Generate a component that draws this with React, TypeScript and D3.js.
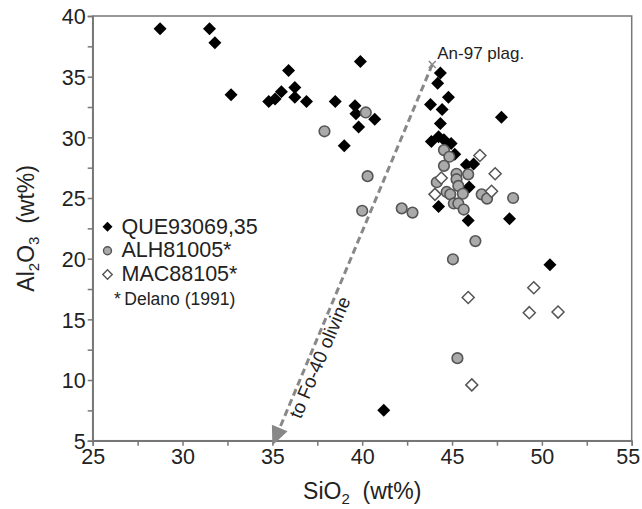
import React, { useEffect, useRef } from "react";
import * as d3 from "d3";

// SiO2 / Al2O3 (wt%)
const queSi = [28.75, 31.5, 31.8, 32.7, 34.8, 35.15, 35.5, 35.9, 36.25, 36.25, 36.9, 38.5, 39.0, 39.6, 39.65, 39.8, 39.9, 40.7, 44.35, 44.2, 44.8, 43.8, 44.45, 47.75, 44.35, 43.85, 44.25, 44.55, 44.95, 45.15, 45.8, 46.2, 45.95, 44.25, 45.9, 48.2, 50.45, 41.2];
const queAl = [38.95, 38.95, 37.8, 33.5, 32.95, 33.15, 33.75, 35.5, 34.1, 33.3, 32.95, 32.95, 29.3, 32.6, 31.95, 30.85, 36.25, 31.5, 35.3, 34.45, 33.3, 32.7, 32.3, 31.65, 31.15, 29.65, 30.05, 29.8, 29.5, 28.6, 27.75, 27.8, 25.9, 24.3, 23.15, 23.3, 19.5, 7.5];

const alhSi = [37.9, 40.2, 40.3, 40.0, 42.2, 42.8, 44.55, 44.85, 44.55, 44.15, 45.25, 45.25, 45.35, 45.9, 44.7, 44.9, 45.6, 45.1, 45.35, 45.65, 46.65, 46.95, 48.4, 46.3, 45.05, 45.3];
const alhAl = [30.5, 32.05, 26.8, 23.95, 24.15, 23.8, 28.95, 28.4, 27.65, 26.3, 27.0, 26.55, 26.0, 26.95, 25.5, 25.3, 25.35, 24.55, 24.55, 24.05, 25.3, 24.95, 25.0, 21.45, 19.95, 11.8];

const macSi = [46.55, 44.4, 44.05, 47.4, 47.2, 45.9, 49.55, 49.3, 50.9, 46.1];
const macAl = [28.5, 26.65, 25.3, 27.0, 25.55, 16.8, 17.6, 15.55, 15.6, 9.6];

const xTicks = [25, 30, 35, 40, 45, 50, 55];
const yTicks = [5, 10, 15, 20, 25, 30, 35, 40];

// mixing line: An-97 plagioclase -> Fo-40 olivine
const plag = [43.9, 36.0];
const olivine = [35, 4.6];

const FONT = "'Liberation Sans', Arial, Helvetica, sans-serif";

export default function App() {
  const ref = useRef(null);

  useEffect(() => {
    const width = 642,
      height = 509;

    const x = d3.scaleLinear().domain([25, 55]).range([92.7, 631.7]);
    const y = d3.scaleLinear().domain([5, 40]).range([440.7, 16]);

    const svg = d3
      .select(ref.current)
      .append("svg")
      .attr("width", width)
      .attr("height", height)
      .style("position", "absolute")
      .style("left", 0)
      .style("top", 0)
      .style("font-family", FONT);

    // frame
    svg
      .append("rect")
      .attr("x", x(25))
      .attr("y", y(40))
      .attr("width", x(55) - x(25))
      .attr("height", y(5) - y(40))
      .attr("fill", "none")
      .attr("stroke", "#777")
      .attr("stroke-width", 1.5);

    const xAxis = svg
      .append("g")
      .attr("transform", `translate(0,${y(5)})`)
      .call(
        d3
          .axisBottom(x)
          .tickValues(d3.range(25, 55.1, 2.5))
          .tickSize(5)
          .tickFormat((d) => (xTicks.includes(+d) ? String(d) : ""))
      );
    const yAxis = svg
      .append("g")
      .attr("transform", `translate(${x(25)},0)`)
      .call(
        d3
          .axisLeft(y)
          .tickValues(d3.range(5, 40.1, 2.5))
          .tickSize(5)
          .tickFormat((d) => (yTicks.includes(+d) ? String(d) : ""))
      );
    [xAxis, yAxis].forEach((g) => {
      g.select(".domain").attr("stroke", "#777").attr("stroke-width", 1.5);
      g.selectAll(".tick line").attr("stroke", "#777").attr("stroke-width", 1.5);
      g.selectAll(".tick text")
        .attr("fill", "#222")
        .style("font-size", "21.5px")
        .style("font-family", FONT);
    });
    xAxis.selectAll(".tick text").attr("y", 8).attr("dy", "0.71em");
    xAxis
      .selectAll(".tick text")
      .filter((d) => +d === 55)
      .attr("x", -4);
    yAxis.selectAll(".tick text").attr("x", -7).attr("dy", "0.36em");

    // axis titles
    const xt = svg
      .append("text")
      .attr("x", x(40))
      .attr("y", 499)
      .attr("text-anchor", "middle")
      .attr("fill", "#222")
      .style("font-size", "23px");
    xt.append("tspan").text("SiO");
    xt.append("tspan").attr("dy", 5).style("font-size", "15px").text("2");
    xt.append("tspan").attr("dy", -5).text("\u00a0 (wt%)");

    const yt = svg
      .append("text")
      .attr("transform", `translate(34,${y(22.5)}) rotate(-90)`)
      .attr("text-anchor", "middle")
      .attr("fill", "#222")
      .style("font-size", "23px");
    yt.append("tspan").text("Al");
    yt.append("tspan").attr("dy", 5).style("font-size", "15px").text("2");
    yt.append("tspan").attr("dy", -5).text("O");
    yt.append("tspan").attr("dy", 5).style("font-size", "15px").text("3");
    yt.append("tspan").attr("dy", -5).text("\u00a0 (wt%)");

    // dashed mixing arrow
    const x0 = x(plag[0]),
      y0 = y(plag[1]),
      x1 = x(olivine[0]),
      y1 = y(olivine[1]);
    const len = Math.hypot(x1 - x0, y1 - y0);
    const ux = (x1 - x0) / len,
      uy = (y1 - y0) / len;
    const head = 19,
      half = 8.5;
    svg
      .append("line")
      .attr("x1", x0)
      .attr("y1", y0)
      .attr("x2", x1 - ux * head)
      .attr("y2", y1 - uy * head)
      .attr("stroke", "#888")
      .attr("stroke-width", 3)
      .attr("stroke-dasharray", "7,4");
    const bx = x1 - ux * head,
      by = y1 - uy * head;
    svg
      .append("path")
      .attr(
        "d",
        `M${x1},${y1}L${bx - uy * half},${by + ux * half}L${bx + uy * half},${by - ux * half}Z`
      )
      .attr("fill", "#888");
    // An-97 cross
    svg
      .append("path")
      .attr("d", `M${x0 - 3.5},${y0 - 3.5}L${x0 + 3.5},${y0 + 3.5}M${x0 - 3.5},${y0 + 3.5}L${x0 + 3.5},${y0 - 3.5}`)
      .attr("stroke", "#888")
      .attr("stroke-width", 1.5);
    svg
      .append("text")
      .attr("x", x0 + 5)
      .attr("y", y0 - 6)
      .attr("fill", "#222")
      .style("font-size", "17px")
      .text("An-97 plag.");

    const ang = (Math.atan2(y0 - y1, x0 - x1) * 180) / Math.PI;
    const mx = x(37.1),
      my = y(12.2);
    svg
      .append("text")
      .attr("transform", `translate(${mx},${my}) rotate(${ang}) translate(0,17)`)
      .attr("text-anchor", "middle")
      .attr("fill", "#222")
      .style("font-size", "19px")
      .text("to Fo-40 olivine");

    // markers
    const diamond = (cx, cy, r) => `M${cx},${cy - r}L${cx + r},${cy}L${cx},${cy + r}L${cx - r},${cy}Z`;

    svg
      .append("g")
      .selectAll("path")
      .data(d3.range(queSi.length))
      .enter()
      .append("path")
      .attr("d", (i) => diamond(x(queSi[i]), y(queAl[i]), 6.5))
      .attr("fill", "#000");

    svg
      .append("g")
      .selectAll("circle")
      .data(d3.range(alhSi.length))
      .enter()
      .append("circle")
      .attr("cx", (i) => x(alhSi[i]))
      .attr("cy", (i) => y(alhAl[i]))
      .attr("r", 5.3)
      .attr("fill", "#aaa")
      .attr("stroke", "#555")
      .attr("stroke-width", 1.6);

    svg
      .append("g")
      .selectAll("path")
      .data(d3.range(macSi.length))
      .enter()
      .append("path")
      .attr("d", (i) => diamond(x(macSi[i]), y(macAl[i]), 6))
      .attr("fill", "#fff")
      .attr("stroke", "#555")
      .attr("stroke-width", 1.5);

    // legend
    const lg = svg.append("g");
    lg.append("path").attr("d", diamond(107.5, 226.7, 5)).attr("fill", "#000");
    lg.append("circle")
      .attr("cx", 107.5)
      .attr("cy", 250.7)
      .attr("r", 4)
      .attr("fill", "#aaa")
      .attr("stroke", "#555")
      .attr("stroke-width", 1.4);
    lg.append("path")
      .attr("d", diamond(107.5, 274.5, 4.7))
      .attr("fill", "#fff")
      .attr("stroke", "#555")
      .attr("stroke-width", 1.4);
    [
      ["QUE93069,35", 233.5],
      ["ALH81005*", 257],
      ["MAC88105*", 281],
    ].forEach(([t, yy]) => {
      lg.append("text")
        .attr("x", 121.5)
        .attr("y", yy)
        .attr("fill", "#222")
        .style("font-size", "21.5px")
        .text(t);
    });
    lg.append("text")
      .attr("x", 114)
      .attr("y", 305)
      .attr("fill", "#222")
      .style("font-size", "17.5px")
      .text("*\u2009Delano (1991)");

    return () => {
      svg.remove();
    };
  }, []);

  return <div ref={ref} />;
}
